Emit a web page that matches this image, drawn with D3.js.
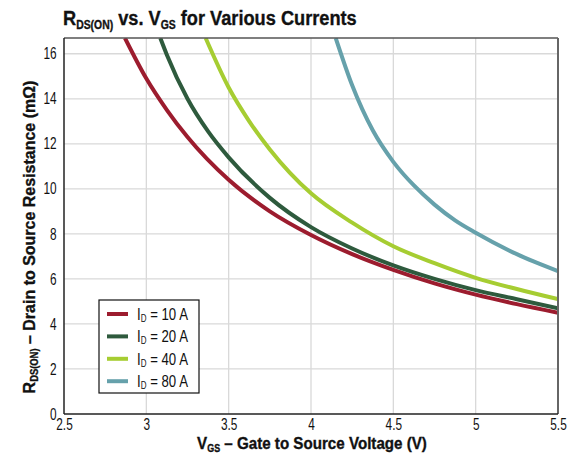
<!DOCTYPE html>
<html>
<head>
<meta charset="utf-8">
<script src="https://cdn.jsdelivr.net/npm/d3@7"></script>
<style>
  body { margin: 0; background: #fff; }
  svg { display: block; }
  text { font-family: "Liberation Sans", Arial, sans-serif; fill: #111; }
  .heavy { stroke: #111; stroke-width: 0.35px; }
</style>
</head>
<body>
<svg id="chart" width="571" height="461"></svg>
<script>
// Values
const xTicks = [2.5, 3, 3.5, 4, 4.5, 5, 5.5];
const yTicks = [0, 2, 4, 6, 8, 10, 12, 14, 16];
const seriesNames = ['10 A', '20 A', '40 A', '80 A'];
const seriesColors = ['#9c1c2e', '#2e5a3d', '#a6cd32', '#66a1ab'];

const vgs10 = [2.87, 3.0, 3.125, 3.25, 3.5, 3.75, 4.0, 4.25, 4.5, 4.75, 5.0, 5.25, 5.5];
const rds10 = [16.7, 14.9, 13.5, 12.3, 10.4, 9.0, 7.95, 7.1, 6.4, 5.8, 5.3, 4.88, 4.5];
const vgs20 = [3.085, 3.125, 3.25, 3.375, 3.5, 3.75, 4.0, 4.25, 4.5, 4.75, 5.0, 5.25, 5.5];
const rds20 = [16.7, 15.95, 14.0, 12.55, 11.4, 9.6, 8.3, 7.35, 6.6, 6.0, 5.5, 5.1, 4.7];
const vgs40 = [3.36, 3.5, 3.625, 3.75, 4.0, 4.25, 4.5, 4.75, 5.0, 5.25, 5.5];
const rds40 = [16.7, 14.5, 13.0, 11.75, 9.8, 8.5, 7.45, 6.7, 6.05, 5.55, 5.1];
const vgs80 = [4.15, 4.25, 4.375, 4.5, 4.625, 4.75, 4.875, 5.0, 5.25, 5.5];
const rds80 = [16.7, 14.6, 12.6, 11.2, 10.15, 9.3, 8.6, 8.05, 7.1, 6.35];

const seriesX = [vgs10, vgs20, vgs40, vgs80];
const seriesY = [rds10, rds20, rds40, rds80];

const svg = d3.select('#chart');
const margin = { left: 64, right: 13, top: 38, bottom: 47 };
const width = 571 - margin.left - margin.right;
const height = 461 - margin.top - margin.bottom;

const x = d3.scaleLinear().domain([2.5, 5.5]).range([0, width]);
const y = d3.scaleLinear().domain([0, 16.7]).range([height, 0]);

const g = svg.append('g').attr('transform', `translate(${margin.left},${margin.top})`);

svg.append('defs').append('clipPath').attr('id', 'plot-clip')
  .append('rect').attr('x', 0).attr('y', 0).attr('width', width).attr('height', height);

// grid
g.append('g').selectAll('line').data(xTicks.slice(1, -1)).join('line')
  .attr('x1', d => x(d)).attr('x2', d => x(d))
  .attr('y1', 0).attr('y2', height)
  .attr('stroke', '#d9d9d9').attr('stroke-width', 1.3);
g.append('g').selectAll('line').data(yTicks.slice(1)).join('line')
  .attr('x1', 0).attr('x2', width)
  .attr('y1', d => y(d)).attr('y2', d => y(d))
  .attr('stroke', '#d9d9d9').attr('stroke-width', 1.3);

// axes (labels only, no tick marks)
const xAxis = g.append('g').attr('transform', `translate(0,${height})`)
  .call(d3.axisBottom(x).tickValues(xTicks).tickSize(0).tickPadding(5).tickFormat(d3.format('')));
const yAxis = g.append('g')
  .call(d3.axisLeft(y).tickValues(yTicks).tickSize(0).tickPadding(10).tickFormat(d3.format('d')));
[xAxis, yAxis].forEach(a => {
  a.select('.domain').remove();
  a.selectAll('text').style('font-size', '16px').attr('fill', '#111')
    .attr('transform', 'scale(0.74,1)');
});

// curves
const line = d3.line().curve(d3.curveMonotoneX).x(d => x(d[0])).y(d => y(d[1]));
const curves = g.append('g').attr('clip-path', 'url(#plot-clip)');
seriesX.forEach((xs, i) => {
  const pts = xs.map((v, j) => [v, seriesY[i][j]]);
  curves.append('path').datum(pts)
    .attr('d', line)
    .attr('fill', 'none')
    .attr('stroke', seriesColors[i])
    .attr('stroke-width', 4);
});

// frame
g.append('line').attr('x1', 0).attr('x2', width).attr('y1', 0).attr('y2', 0)
  .attr('stroke', '#555').attr('stroke-width', 1.5);
g.append('line').attr('x1', width).attr('x2', width).attr('y1', 0).attr('y2', height)
  .attr('stroke', '#666').attr('stroke-width', 2);
g.append('line').attr('x1', 0).attr('x2', 0).attr('y1', 0).attr('y2', height)
  .attr('stroke', '#222').attr('stroke-width', 1.5);
g.append('line').attr('x1', 0).attr('x2', width).attr('y1', height).attr('y2', height)
  .attr('stroke', '#222').attr('stroke-width', 1.5);

// squeeze a text horizontally to a target width (the reference uses a condensed face)
function fitWidth(txt, tx, ty, target, rot) {
  const w = txt.node().getBBox().width || target;
  const s = target / w;
  txt.attr('transform', `translate(${tx},${ty})${rot ? ` rotate(${rot})` : ''} scale(${s},1)`);
}

// title
const title = svg.append('text').attr('class', 'heavy').attr('x', 0).attr('y', 0)
  .style('font-size', '21px').style('font-weight', 'bold');
title.append('tspan').text('R');
title.append('tspan').text('DS(ON)').style('font-size', '12px').attr('dy', 3.5);
title.append('tspan').text(' vs. V').attr('dy', -3.5);
title.append('tspan').text('GS').style('font-size', '12px').attr('dy', 3.5);
title.append('tspan').text(' for Various Currents').attr('dy', -3.5);
fitWidth(title, 63, 25, 294);

// x axis title
const xt = svg.append('text').attr('class', 'heavy').attr('x', 0).attr('y', 0)
  .attr('text-anchor', 'middle')
  .style('font-size', '17px').style('font-weight', 'bold');
xt.append('tspan').text('V');
xt.append('tspan').text('GS').style('font-size', '10px').attr('dy', 3);
xt.append('tspan').text(' \u2013 Gate to Source Voltage (V)').attr('dy', -3);
fitWidth(xt, 312, 449, 230);

// y axis title
const yt = svg.append('text').attr('class', 'heavy').attr('x', 0).attr('y', 0)
  .attr('text-anchor', 'middle')
  .style('font-size', '17px').style('font-weight', 'bold');
yt.append('tspan').text('R');
yt.append('tspan').text('DS(ON)').style('font-size', '10px').attr('dy', 3);
yt.append('tspan').text(' \u2013 Drain  to Source Resistance (m\u03A9)').attr('dy', -3);
fitWidth(yt, 35, 237, 313, -90);

// legend
const legend = svg.append('g').attr('transform', 'translate(99,300)');
legend.append('rect').attr('width', 100).attr('height', 93)
  .attr('fill', '#fff').attr('stroke', '#111').attr('stroke-width', 1.2);
seriesNames.forEach((name, i) => {
  const row = legend.append('g').attr('transform', `translate(0,${14 + i * 22.4})`);
  row.append('line').attr('x1', 8).attr('x2', 29).attr('y1', 0).attr('y2', 0)
    .attr('stroke', seriesColors[i]).attr('stroke-width', 4);
  const t = row.append('text').style('font-size', '16.5px');
  t.append('tspan').text('I');
  t.append('tspan').text('D').style('font-size', '10px').attr('dy', 2);
  t.append('tspan').text(` = ${name}`).attr('dy', -2);
  fitWidth(t, 38, 6, 51);
});
</script>
</body>
</html>
